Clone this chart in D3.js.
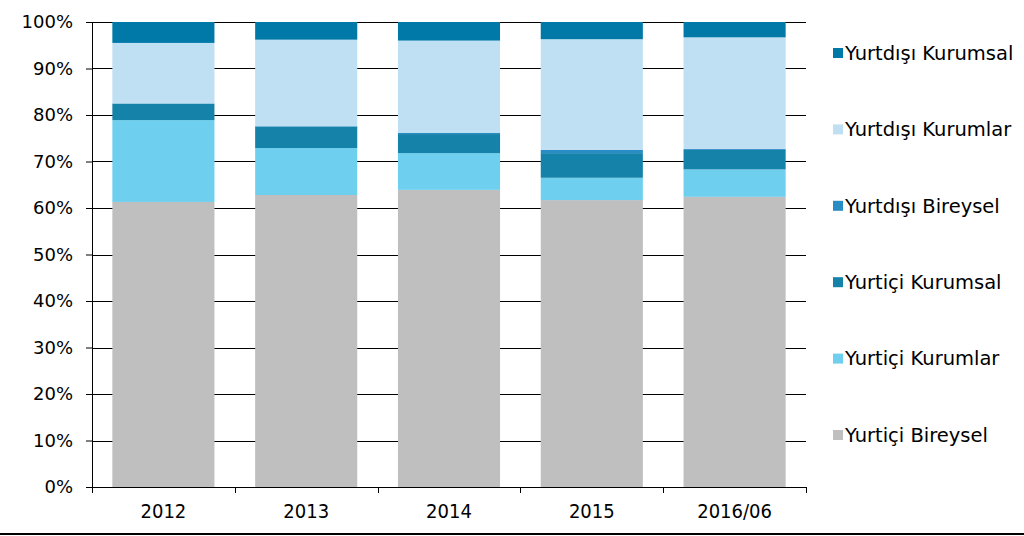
<!DOCTYPE html>
<meta charset="utf-8">
<head>
<style>
body { margin: 0; background: #fff; }
.y-axis .tick text { font: 18px "DejaVu Sans", Verdana, sans-serif; fill: #000; }
.x-axis .tick text { font: 20px "DejaVu Sans Condensed", "DejaVu Sans", sans-serif; fill: #000; }
.legend text { font: 19.5px "DejaVu Sans", Verdana, sans-serif; fill: #000; }
.grid line { stroke: #000; stroke-width: 1; }
</style>
</head>
<body>
<svg width="1024" height="536"></svg>
<script src="https://d3js.org/d3.v7.min.js"></script>
<script>

var years = ["2012", "2013", "2014", "2015", "2016/06"];
var seriesNames = ["Yurtiçi Bireysel", "Yurtiçi Kurumlar", "Yurtiçi Kurumsal",
                   "Yurtdışı Bireysel", "Yurtdışı Kurumlar", "Yurtdışı Kurumsal"];
var yurticiBireysel  = [61.3, 62.8, 63.9, 61.7, 62.4];
var yurticiKurumlar  = [17.6, 10.1, 7.9, 4.8, 5.9];
var yurticiKurumsal  = [3.5, 4.6, 4.1, 5.3, 4.2];
var yurtdisiBireysel = [0.1, 0.1, 0.3, 0.7, 0.2];
var yurtdisiKurumlar = [13.0, 18.6, 19.8, 23.8, 24.0];
var yurtdisiKurumsal = [4.5, 3.8, 4.0, 3.7, 3.3];
var colors = ["#bfbfbf", "#6fcfee", "#1582a9", "#2a8cc4", "#bfdff2", "#0079a8"];

var svg = d3.select("svg"),
    margin = {left: 92, right: 218, top: 22, bottom: 49},
    width = 1024 - margin.left - margin.right,
    height = 536 - margin.top - margin.bottom,
    g = svg.append("g").attr("transform", "translate(" + margin.left + "," + margin.top + ")");

var table = years.map(function(y, i) {
  var row = {year: y};
  row[seriesNames[0]] = yurticiBireysel[i];
  row[seriesNames[1]] = yurticiKurumlar[i];
  row[seriesNames[2]] = yurticiKurumsal[i];
  row[seriesNames[3]] = yurtdisiBireysel[i];
  row[seriesNames[4]] = yurtdisiKurumlar[i];
  row[seriesNames[5]] = yurtdisiKurumsal[i];
  return row;
});

var stack = d3.stack().keys(seriesNames).offset(d3.stackOffsetExpand);
var layers = stack(table);

var x = d3.scaleBand().domain(years).range([0, width]).paddingInner(0.285).paddingOuter(0.1425);
var y = d3.scaleLinear().domain([0, 1]).range([height, 0]);
var color = d3.scaleOrdinal().domain(seriesNames).range(colors);

// gridlines
g.append("g").attr("class", "grid")
  .selectAll("line")
  .data(d3.range(0.1, 1.01, 0.1))
  .enter().append("line")
    .attr("x1", 0).attr("x2", width)
    .attr("y1", function(d) { return Math.round(y(d)) + 0.5; })
    .attr("y2", function(d) { return Math.round(y(d)) + 0.5; });

g.selectAll(".layer")
  .data(layers)
  .enter().append("g")
    .attr("class", "layer")
    .attr("fill", function(d) { return color(d.key); })
  .selectAll("rect")
  .data(function(d) { return d; })
  .enter().append("rect")
    .attr("x", function(d) { return x(d.data.year); })
    .attr("width", x.bandwidth())
    .attr("y", function(d) { return y(d[1]); })
    .attr("height", function(d) { return y(d[0]) - y(d[1]); });

var yAxis = g.append("g").attr("class", "y-axis")
  .call(d3.axisLeft(y).ticks(10, "%").tickSize(6).tickPadding(13).tickSizeOuter(0));
yAxis.select(".domain").attr("stroke", "#000");

var xAxis = g.append("g").attr("class", "x-axis")
  .attr("transform", "translate(0," + height + ")")
  .call(d3.axisBottom(x).tickSize(0).tickPadding(17).tickSizeOuter(0));
xAxis.select(".domain").attr("stroke", "#000");

// category boundary ticks
var bounds = years.map(function(d) { return x(d) - x.step() * x.paddingInner() / 2; });
bounds[0] = 0;
bounds.push(width);
g.append("g").selectAll("line")
  .data(bounds)
  .enter().append("line")
    .attr("x1", function(d) { return Math.round(d) + 0.5; })
    .attr("x2", function(d) { return Math.round(d) + 0.5; })
    .attr("y1", height).attr("y2", height + 6)
    .attr("stroke", "#000");

// legend
var legend = svg.append("g").attr("class", "legend")
  .selectAll("g")
  .data(seriesNames.slice().reverse())
  .enter().append("g")
    .attr("transform", function(d, i) { return "translate(833," + (53 + i * 76.4) + ")"; });

legend.append("rect")
  .attr("x", 0).attr("y", -5).attr("width", 10).attr("height", 10)
  .attr("fill", function(d) { return color(d); });

legend.append("text")
  .attr("x", 12).attr("y", 0).attr("dy", "0.35em")
  .text(function(d) { return d; });

// bottom border
svg.append("line")
  .attr("x1", 0).attr("x2", 1024).attr("y1", 534).attr("y2", 534)
  .attr("stroke", "#000").attr("stroke-width", 2);

</script>
</body>
</html>
